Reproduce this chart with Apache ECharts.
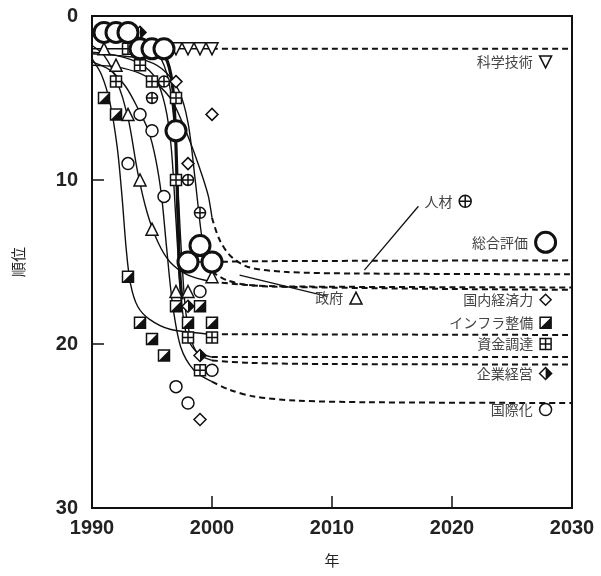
<!DOCTYPE html>
<html>
<head>
<meta charset="utf-8">
<script src="https://cdn.jsdelivr.net/npm/echarts@6/dist/echarts.min.js"></script>
<style>
  html, body { margin: 0; padding: 0; background: #fff; }
  #chart { width: 601px; height: 576px; }
</style>
</head>
<body>
<div id="chart"></div>
<script>
// 読み取った値 [年, 順位]
const xTicks = [1990, 2000, 2010, 2020, 2030];
const yTicks = [0, 10, 20, 30];

// 各指標の観測点
const sogo = [[1991, 1], [1992, 1], [1993, 1], [1994, 2], [1995, 2], [1996, 2], [1997, 7], [1998, 15], [1999, 14], [2000, 15]];
const kagaku = [[1997, 2], [1998, 2], [1999, 2], [2000, 2]];
const seifu = [[1991, 2], [1992, 3], [1993, 6], [1994, 10], [1995, 13], [1997, 16.8], [1998, 16.8], [2000, 15.9]];
const kokunai = [[1997, 4], [1998, 9], [2000, 6], [1999, 24.6]];
const jinzai = [[1995, 5], [1996, 4], [1998, 10], [1999, 12]];
const shikin = [[1992, 4], [1993, 2], [1994, 3], [1995, 4], [1997, 5], [1997, 10], [1998, 19.6], [1999, 21.6], [2000, 19.6]];
const infra = [[1991, 5], [1992, 6], [1993, 15.9], [1994, 18.7], [1995, 19.7], [1996, 20.7], [1997, 17.7], [1998, 18.7], [1999, 17.7], [2000, 18.7]];
const kigyo = [[1994, 1], [1998, 17.7], [1999, 20.7]];
const kokusai = [[1993, 9], [1994, 6], [1995, 7], [1996, 11], [1997, 22.6], [1998, 23.6], [1999, 16.8], [2000, 21.6]];

// 当てはめ曲線 (実線 1990-2000)
const fitSogo = [[1990, 1], [1991.5, 1.05], [1993, 1.15], [1994.5, 1.5], [1995.6, 2.1], [1996.3, 2.8], [1996.75, 4.5], [1997.0, 8], [1997.15, 12], [1997.3, 15.5], [1997.5, 17.3]];
const fitSogoTail = [[1997.2, 14.2], [1997.6, 14.8], [1998.5, 15], [2000, 15]];
const fitKagaku = [[1990, 2], [2000, 2]];
const fitJinzai = [[1990, 3], [1992, 3.1], [1994, 3.5], [1995.5, 4.2], [1996.7, 5.2], [1997.7, 6.8], [1998.6, 8.5], [1999.3, 10], [1999.7, 11], [2000, 12.3]];
const fitKokunai = [[1990, 2.3], [1992, 2.4], [1994, 2.6], [1995.8, 3.2], [1997.2, 4.5], [1998, 6.5], [1998.6, 10], [1999.1, 13.2], [1999.5, 14.8], [2000, 15.6]];
const fitSeifu = [[1990, 1.8], [1991, 2.4], [1992, 3.8], [1993, 6.2], [1993.8, 9.5], [1994.6, 12], [1995.5, 13.8], [1996.5, 15], [1998, 15.8], [2000, 16.2]];
const fitInfra = [[1990, 2.6], [1990.8, 3.6], [1991.5, 5.3], [1992.1, 8], [1992.5, 11], [1992.85, 14.2], [1993.2, 16.3], [1993.8, 17.7], [1994.8, 18.5], [1996.5, 19.1], [2000, 19.4]];
const fitShikin = [[1990, 2.2], [1992, 2.4], [1994, 2.9], [1995.3, 3.8], [1996.1, 5.5], [1996.6, 8], [1997, 12.5], [1997.35, 16.5], [1997.8, 19.2], [1998.6, 20.4], [2000, 20.8]];
const fitKigyo = [[1990, 1.2], [1992, 1.25], [1994, 1.5], [1995.5, 2.3], [1996.4, 4], [1996.9, 7], [1997.2, 11], [1997.5, 15], [1997.9, 18.5], [1998.7, 20.5], [2000, 21]];
const fitKokusai = [[1990, 2.8], [1991.5, 3.3], [1992.8, 4.3], [1993.8, 5.6], [1994.7, 7], [1995.3, 8.7], [1995.8, 11], [1996.2, 14], [1996.7, 17.5], [1997.4, 20.2], [1998.5, 21.6], [2000, 22.3]];

// 外挿 (破線 2000-2030)
const extSogo = [[2000, 15], [2004, 14.95], [2030, 14.9]];
const extKagaku = [[2000, 2], [2030, 2]];
const extJinzai = [[2000, 12.3], [2000.6, 13.6], [2001.5, 14.6], [2003, 15.3], [2006, 15.6], [2012, 15.7], [2030, 15.75]];
const extKokunai = [[2000, 15.6], [2001.2, 16.1], [2003, 16.4], [2008, 16.5], [2030, 16.55]];
const extSeifu = [[2000, 16.2], [2005, 16.5], [2030, 16.7]];
const extInfra = [[2000, 19.4], [2030, 19.45]];
const extShikin = [[2000, 20.8], [2030, 20.8]];
const extKigyo = [[2000, 21], [2003, 21.15], [2010, 21.22], [2030, 21.25]];
const extKokusai = [[2000, 22.3], [2001.5, 22.8], [2003.5, 23.2], [2007, 23.45], [2013, 23.55], [2030, 23.6]];

// 凡例ラベルの位置と引出し線
const labelPos = {
  kagaku: [2027.8, 2.8], jinzai: [2021.1, 11.3], sogo: [2027.8, 13.8], seifu: [2012, 17.2],
  kokunai: [2027.8, 17.3], infra: [2027.8, 18.7], shikin: [2027.8, 20], kigyo: [2027.8, 21.8], kokusai: [2027.8, 24]
};
const leaderJinzai = [[2017.2, 11.6], [2012.7, 15.5]];
const leaderSeifu = [[2002.3, 15.8], [2009.6, 17.1]];

const INK = "#111";
const FONT = "Noto Sans CJK JP";
const plus = "path://M10 5A5 5 0 1 1 0 5A5 5 0 1 1 10 5ZM5 0V10M0 5H10";
const grid = "path://M0 0H10V10H0ZM5 0V10M0 5H10";
const halfSq = "path://M10 0L10 10L0 10Z";
const halfDia = "path://M0 0L10 10L0 20Z";

function fit(data, width) {
  return { type: "line", data: data, smooth: 0.3, showSymbol: false, silent: true,
    lineStyle: { color: INK, width: width || 1.4 }, z: 1 };
}
function ext(data) {
  return { type: "line", data: data, smooth: 0.3, showSymbol: false, silent: true,
    lineStyle: { color: INK, width: 2, type: [6, 4] }, z: 1 };
}
function marks(data, symbol, size, style, extra) {
  return Object.assign({ type: "scatter", data: data, symbol: symbol, symbolSize: size,
    itemStyle: Object.assign({ color: "#fff", borderColor: INK, borderWidth: 1.5, opacity: 1 }, style || {}), z: 3 }, extra || {});
}
function label(pos, name, symbol, size, style, extra) {
  return marks([pos], symbol, size, style, Object.assign({
    label: { show: true, position: "left", distance: 6, formatter: name, color: "#444", fontSize: 14, fontFamily: FONT }
  }, extra || {}));
}

const chart = echarts.init(document.getElementById("chart"));
chart.setOption({
  animation: false,
  backgroundColor: "#fff",
  grid: { left: 92, right: 29, top: 16, bottom: 68, show: true, borderColor: INK, borderWidth: 2 },
  xAxis: {
    type: "value", min: xTicks[0], max: xTicks[xTicks.length - 1], interval: 10,
    name: "年", nameLocation: "middle", nameGap: 45,
    nameTextStyle: { fontSize: 15, color: "#222", fontFamily: FONT },
    axisLine: { show: true, onZero: false, lineStyle: { color: INK, width: 2 } },
    axisTick: { show: true, inside: true, length: 12, lineStyle: { color: INK, width: 1.5 } },
    splitLine: { show: false },
    axisLabel: { fontSize: 20, fontWeight: "bold", color: "#222", fontFamily: "Liberation Sans", margin: 10,
      formatter: (v) => String(v) }
  },
  yAxis: {
    type: "value", inverse: true, position: "left", min: yTicks[0], max: yTicks[yTicks.length - 1], interval: 10,
    name: "順位", nameLocation: "middle", nameGap: 66, nameRotate: 90,
    nameTextStyle: { fontSize: 15, color: "#222", fontFamily: FONT },
    axisLine: { show: true, onZero: false, lineStyle: { color: INK, width: 2 } },
    axisTick: { show: true, inside: true, length: 12, lineStyle: { color: INK, width: 1.5 } },
    splitLine: { show: false },
    axisLabel: { fontSize: 20, fontWeight: "bold", color: "#222", fontFamily: "Liberation Sans", margin: 14 }
  },
  series: [
    fit(fitKagaku), fit(fitJinzai), fit(fitKokunai), fit(fitSeifu), fit(fitInfra),
    fit(fitShikin), fit(fitKigyo), fit(fitKokusai), fit(fitSogo, 3.2), fit(fitSogoTail, 1.6),
    ext(extSogo), ext(extKagaku), ext(extJinzai), ext(extKokunai), ext(extSeifu),
    ext(extInfra), ext(extShikin), ext(extKigyo), ext(extKokusai),
    { type: "line", data: leaderJinzai, showSymbol: false, silent: true, lineStyle: { color: INK, width: 1.3 } },
    { type: "line", data: leaderSeifu, showSymbol: false, silent: true, lineStyle: { color: INK, width: 1.3 } },

    marks(kokusai, "circle", 12),
    marks(infra, "rect", 11),
    marks(infra, halfSq, 11, { color: INK, borderWidth: 0 }, { z: 4 }),
    marks(shikin, grid, 11),
    marks(jinzai, plus, 11),
    marks(kokunai, "diamond", 12),
    marks(kigyo, "diamond", 12),
    marks(kigyo, halfDia, [6, 12], { color: INK, borderWidth: 0 }, { symbolOffset: [3, 0], z: 4 }),
    marks(seifu, "triangle", 12),
    marks(kagaku, "triangle", 12, {}, { symbolRotate: 180 }),
    marks(sogo, "circle", 20, { borderWidth: 3 }, { z: 5 }),

    label(labelPos.kagaku, "科学技術", "triangle", 12, {}, { symbolRotate: 180 }),
    label(labelPos.jinzai, "人材", plus, 12),
    label(labelPos.sogo, "総合評価", "circle", 20, { borderWidth: 3 }),
    label(labelPos.seifu, "政府", "triangle", 12),
    label(labelPos.kokunai, "国内経済力", "diamond", 11),
    label(labelPos.infra, "インフラ整備", "rect", 11),
    marks([labelPos.infra], halfSq, 11, { color: INK, borderWidth: 0 }, { z: 4 }),
    label(labelPos.shikin, "資金調達", grid, 11),
    label(labelPos.kigyo, "企業経営", "diamond", 12),
    marks([labelPos.kigyo], halfDia, [6, 12], { color: INK, borderWidth: 0 }, { symbolOffset: [3, 0], z: 4 }),
    label(labelPos.kokusai, "国際化", "circle", 12)
  ]
});
</script>
</body>
</html>
